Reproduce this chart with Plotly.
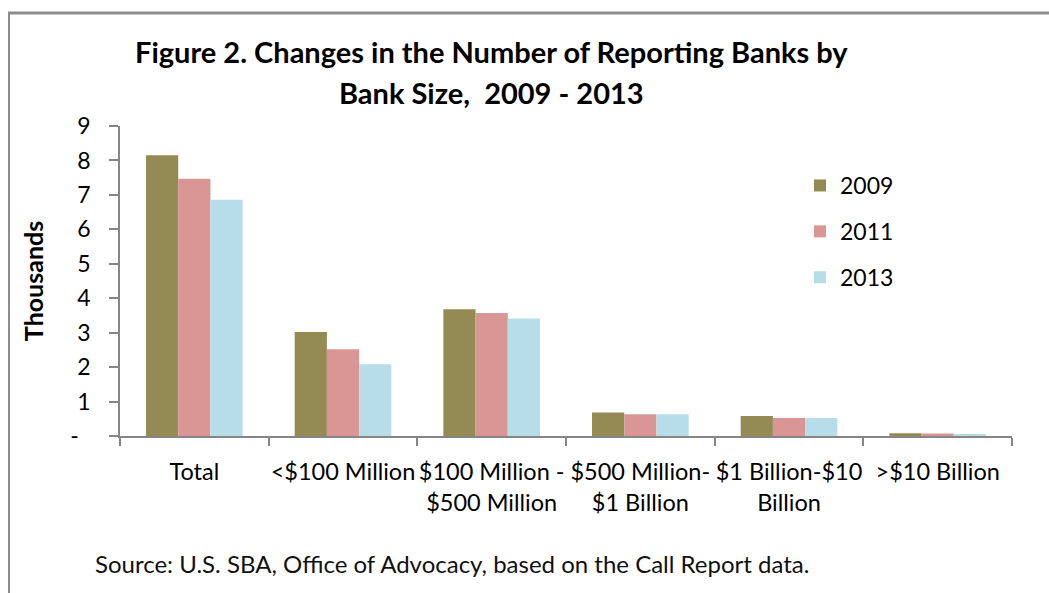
import plotly.graph_objects as go

categories = ["Total", "<$100 Million", "$100 Million -<br>$500 Million",
              "$500 Million-<br>$1 Billion", "$1 Billion-$10<br>Billion", ">$10 Billion"]
series_names = ["2009", "2011", "2013"]
values_2009 = [8.15, 3.02, 3.68, 0.68, 0.58, 0.08]
values_2011 = [7.47, 2.52, 3.57, 0.63, 0.52, 0.07]
values_2013 = [6.86, 2.08, 3.41, 0.63, 0.52, 0.06]
colors = ["#948A54", "#D99694", "#B7DEE8"]
y_tick_vals = [0, 1, 2, 3, 4, 5, 6, 7, 8, 9]
y_tick_text = ["-\u00a0\u00a0", "1", "2", "3", "4", "5", "6", "7", "8", "9"]
title_lines = ["Figure 2. Changes in the Number of Reporting Banks by", "Bank Size,  2009 - 2013"]

W, H = 1049, 593
L, R, T, B = 120, 1012, 126, 436  # plot area pixels

def px(x):
    return (x - L) / (R - L)

def py(y):
    return (B - y) / (B - T)

FONT = "Lato, Carlito, Calibri, sans-serif"

fig = go.Figure()
for name, vals, col in zip(series_names, [values_2009, values_2011, values_2013], colors):
    fig.add_trace(go.Bar(x=categories, y=vals, name=name, legendgroup=name,
                         marker=dict(color=col, line=dict(width=0))))

fig.update_layout(
    width=W, height=H,
    margin=dict(l=L, r=W - R, t=T, b=H - B, autoexpand=False),
    paper_bgcolor="white", plot_bgcolor="white",
    font=dict(family=FONT, size=20, color="#000000"),
    barmode="group", bargap=0.35, bargroupgap=0,
    legend=dict(x=px(800), y=py(164), xanchor="left", yanchor="top",
                font=dict(size=23, color="#000000"), tracegroupgap=13,
                bgcolor="rgba(0,0,0,0)", itemwidth=30),
    showlegend=True,
)
fig.update_xaxes(showline=True, linecolor="#868686", linewidth=1.5,
                 ticks="outside", ticklen=8, tickcolor="#868686", tickwidth=1.5,
                 tickson="boundaries", showgrid=False, tickangle=0, automargin=False,
                 tickfont=dict(size=23.5, color="#000000"), ticklabelstandoff=14)
fig.update_yaxes(range=[0, 9], tickvals=y_tick_vals, ticktext=y_tick_text,
                 showline=True, linecolor="#868686", linewidth=1.5,
                 ticks="outside", ticklen=9, tickcolor="#868686", tickwidth=1.5,
                 showgrid=False, zeroline=False, automargin=False,
                 tickfont=dict(size=23, color="#000000"), ticklabelstandoff=14,
                 title=dict(text="<b>Thousands</b>", font=dict(size=25, color="#000000"), standoff=20))

for line, cy in zip(title_lines, [52, 92]):
    fig.add_annotation(text="<b>" + line + "</b>", xref="paper", yref="paper",
                       x=px(491), y=py(cy), xanchor="center", yanchor="middle",
                       showarrow=False, font=dict(size=29, color="#000000"))

fig.add_annotation(text="Source: U.S. SBA, Office of Advocacy, based on the Call Report data.",
                   xref="paper", yref="paper", x=px(93), y=py(563), xanchor="left", yanchor="middle",
                   showarrow=False, font=dict(size=24, color="#111111"))

# Frame lines (top and left border of the original picture)
fig.add_shape(type="line", xref="paper", yref="paper", x0=px(8), x1=px(1049), y0=py(13), y1=py(13),
              line=dict(color="#8C8C8C", width=3))
fig.add_shape(type="line", xref="paper", yref="paper", x0=px(9), x1=px(9), y0=py(13), y1=py(593),
              line=dict(color="#8C8C8C", width=2))

fig.write_html("out.html")
